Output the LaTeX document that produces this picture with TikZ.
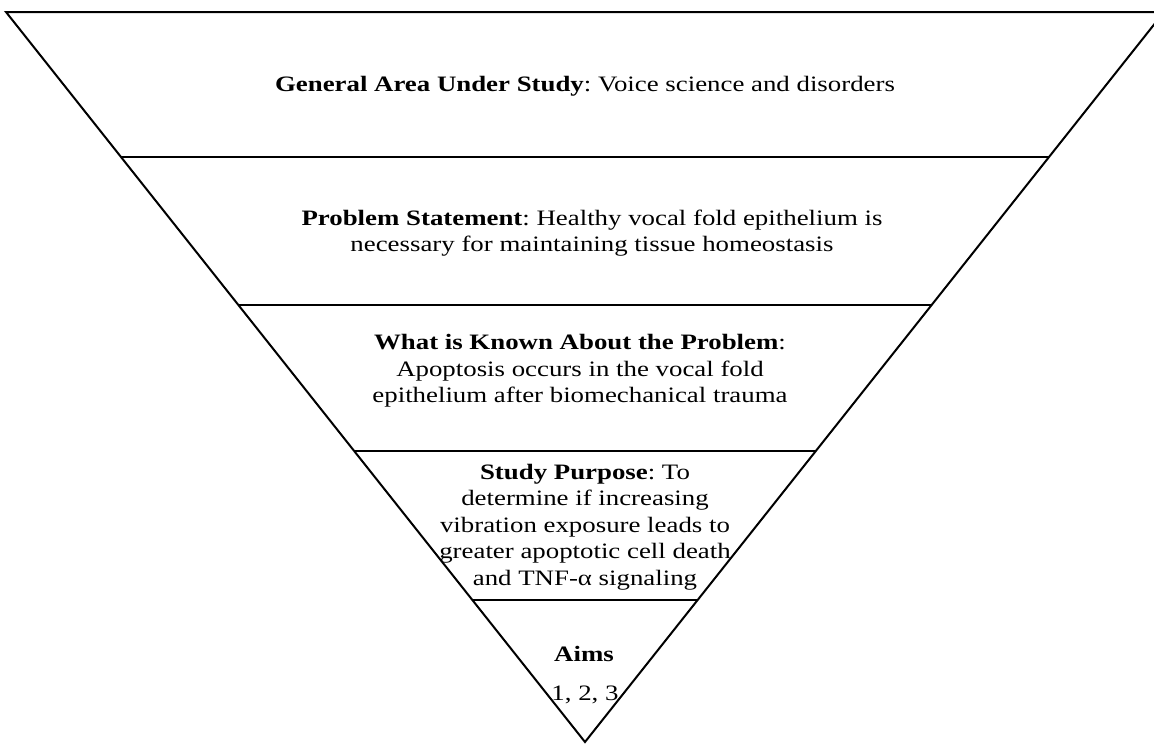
\documentclass[tikz,border=0pt]{standalone}
\usepackage{fontspec}
\setmainfont[FakeStretch=1.22]{Liberation Serif}
\usetikzlibrary{calc}

\begin{document}
\frenchspacing
\begin{tikzpicture}[x=0.75pt,y=-0.75pt,line width=1.5pt,
  lvltext/.style={inner sep=0pt,align=center,font=\fontsize{16.5pt}{19.8pt}\selectfont}]
  \useasboundingbox (0,0) rectangle (1154,744);
  \clip (0,0) rectangle (1154,744);
  \coordinate (tl) at (6,12);
  \coordinate (tr) at (1164,12);
  \coordinate (apex) at (585,742);
  \draw (tl) -- (tr) -- (apex) -- cycle;
  \foreach \t in {0.1986,0.4014,0.6014,0.8055}
    \draw ($(tl)!\t!(apex)$) -- ($(tr)!\t!(apex)$);
  \node[lvltext,anchor=base] (area) at (585,91) {\textbf{General Area Under Study}: Voice science and disorders};
  \node[lvltext] (problem) at (592,233) {\textbf{Problem Statement}: Healthy vocal fold epithelium is\\necessary for maintaining tissue homeostasis};
  \node[lvltext] (known) at (580,371) {\textbf{What is Known About the Problem}:\\Apoptosis occurs in the vocal fold\\epithelium after biomechanical trauma};
  \node[lvltext] (purpose) at (585,527) {\textbf{Study Purpose}: To\\determine if increasing\\vibration exposure leads to\\greater apoptotic cell death\\and TNF-α signaling};
  \node[lvltext,anchor=base] (aims) at (584,661) {\textbf{Aims}};
  \node[lvltext,anchor=base] (aimnums) at (585,700) {1, 2, 3};
\end{tikzpicture}
\end{document}
